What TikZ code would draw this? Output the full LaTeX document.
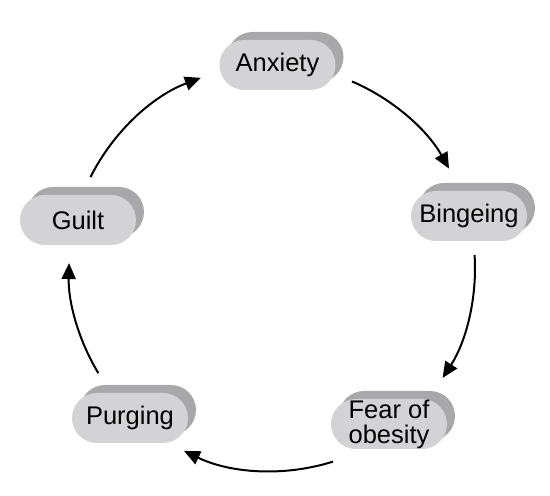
\documentclass[tikz,border=0pt]{standalone}
\usepackage{fontspec}
\setmainfont{Liberation Sans}
\usetikzlibrary{arrows.meta,shadows}
\definecolor{pillfront}{HTML}{D3D3D5}
\definecolor{pillback}{HTML}{A8A8AA}
\begin{document}
\begin{tikzpicture}[x=1pt,y=1pt,
  pill/.style={fill=pillfront, draw=none, rounded corners=25pt,
    minimum width=116pt, minimum height=50pt, inner sep=0pt,
    font=\fontsize{25.5}{25}\selectfont, align=center,
    general shadow={shadow xshift=8pt, shadow yshift=8pt, fill=pillback}},
  cyc/.style={line width=2pt, -{Triangle[length=16pt,width=14pt]}}]
\useasboundingbox (0,0) rectangle (550,496);
\coordinate (ctr) at (272,228);
\node[pill] (anx) at (277.5,431) {Anxiety};
\node[pill] (bin) at (469,280) {Bingeing};
\node[pill] (fear) at (389,72) {Fear of\\obesity};
\node[pill] (pur) at (130,78) {Purging};
\node[pill] (gui) at (78,276) {Guilt};
\path (ctr) ++(66.8:203) coordinate (a1);
\path (ctr) ++(3.7:203) coordinate (a2);
\path (ctr) ++(-72.5:203) coordinate (a3);
\path (ctr) ++(211.2:203) coordinate (a4);
\path (ctr) ++(153.4:203) coordinate (a5);
\draw[cyc] (a1) arc[start angle=66.8, end angle=29.3, radius=203];
\draw[cyc] (a2) arc[start angle=3.7, end angle=-32.8, radius=203];
\draw[cyc] (a3) arc[start angle=-72.5, end angle=-115.7, radius=203];
\draw[cyc] (a4) arc[start angle=211.2, end angle=178.6, radius=203];
\draw[cyc] (a5) arc[start angle=153.4, end angle=110.5, radius=203];
\end{tikzpicture}
\end{document}
